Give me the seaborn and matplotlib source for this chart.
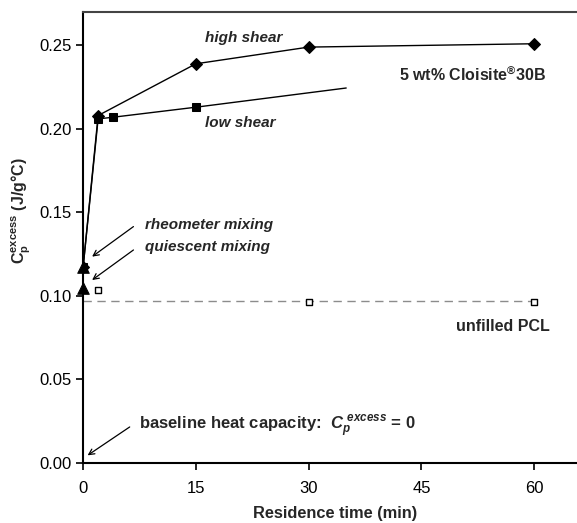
import numpy as np
import pandas as pd
import matplotlib
matplotlib.use("Agg")
import matplotlib.pyplot as plt
import seaborn as sns

# data
high_t = [0, 2, 15, 30, 60]
high_cp = [0.117, 0.208, 0.239, 0.249, 0.251]
low_t = [0, 2, 4, 15]
low_cp = [0.117, 0.206, 0.207, 0.213]
low_trend_t = [15, 35]
low_trend_cp = [0.213, 0.2245]
mix_t = [0, 0]
mix_cp = [0.117, 0.105]
pcl_t = [2, 30, 60]
pcl_cp = [0.1035, 0.0965, 0.0965]
pcl_level = 0.097

sns.set_style("ticks")
plt.rcParams["font.family"] = ["Liberation Sans", "DejaVu Sans"]
plt.rcParams["mathtext.fontset"] = "custom"
plt.rcParams["mathtext.rm"] = "Liberation Sans:bold"
plt.rcParams["mathtext.bf"] = "Liberation Sans:bold"
plt.rcParams["mathtext.it"] = "Liberation Sans:italic:bold"

fig = plt.figure(figsize=(5.77, 5.23), dpi=100)
ax = fig.add_axes([0.144, 0.115, 0.856, 0.862])

# unfilled PCL reference level
ax.plot([0, 60], [pcl_level, pcl_level], ls=(0, (6, 4)), color="#8c8c8c", lw=1.0, zorder=1)

sns.lineplot(x=high_t, y=high_cp, ax=ax, color="black", lw=1.0, marker="D",
             markersize=6, markeredgecolor="black", sort=False, zorder=3)
sns.lineplot(x=low_t, y=low_cp, ax=ax, color="black", lw=1.0, marker="s",
             markersize=6, markeredgecolor="black", sort=False, zorder=3)
sns.lineplot(x=low_trend_t, y=low_trend_cp, ax=ax, color="black", lw=1.0, zorder=2)
sns.scatterplot(x=mix_t, y=mix_cp, ax=ax, color="black", marker="^", s=70,
                edgecolor="black", zorder=4, clip_on=False)
sns.scatterplot(x=pcl_t, y=pcl_cp, ax=ax, color="white", marker="s", s=22,
                edgecolor="black", linewidth=1.0, zorder=4)

ax.set_xlim(0, 65.7)
ax.set_ylim(0, 0.27)
ax.set_xticks([0, 15, 30, 45, 60])
ax.set_yticks([0.0, 0.05, 0.10, 0.15, 0.20, 0.25])
ax.set_yticklabels(["0.00", "0.05", "0.10", "0.15", "0.20", "0.25"])
ax.tick_params(labelsize=12, length=5, width=1.2, direction="out", colors="black")
ax.tick_params(axis="x", pad=8)
ax.tick_params(axis="y", pad=3)
for s in ["left", "bottom", "top"]:
    ax.spines[s].set_linewidth(1.5)
    ax.spines[s].set_color("black")
ax.spines["top"].set_visible(True)
ax.spines["top"].set_color("#444444")
ax.spines["right"].set_visible(False)

ax.set_xlabel("Residence time (min)", fontsize=11.8, fontweight="bold", va="center")
ax.xaxis.set_label_coords(0.51, -0.113)
ax.set_ylabel(r"$\mathbf{C_p^{excess}}$ (J/g°C)", fontsize=11.5, fontweight="bold")
ax.yaxis.set_label_coords(-0.101, 0.559)

bi = dict(fontsize=11, fontweight="bold", style="italic")
ax.text(16.2, 0.2545, "high shear", ha="left", va="center", **bi)
ax.text(16.2, 0.2035, "low shear", ha="left", va="center", **bi)
ax.text(8.2, 0.1425, "rheometer mixing", ha="left", va="center", **bi)
ax.text(8.2, 0.1295, "quiescent mixing", ha="left", va="center", **bi)
ax.text(42, 0.2325, "5 wt% Cloisite$^{\\circledR}$30B", ha="left", va="center",
        fontsize=11.5, fontweight="bold")
ax.text(49.6, 0.0815, "unfilled PCL", ha="left", va="center", fontsize=11.5, fontweight="bold")
ax.text(7.4, 0.0215, r"baseline heat capacity:  $C_p^{\ excess}$ = 0", ha="left",
        va="center", fontsize=12, fontweight="bold")

arrow = dict(arrowstyle="->", color="black", lw=0.9, shrinkA=0, shrinkB=0)
ax.annotate("", xy=(1.2, 0.1235), xytext=(6.7, 0.1415), arrowprops=arrow)
ax.annotate("", xy=(1.2, 0.1095), xytext=(6.7, 0.1275), arrowprops=arrow)
ax.annotate("", xy=(0.6, 0.0045), xytext=(6.2, 0.0215), arrowprops=arrow)

fig.savefig("out.png", dpi=100)
